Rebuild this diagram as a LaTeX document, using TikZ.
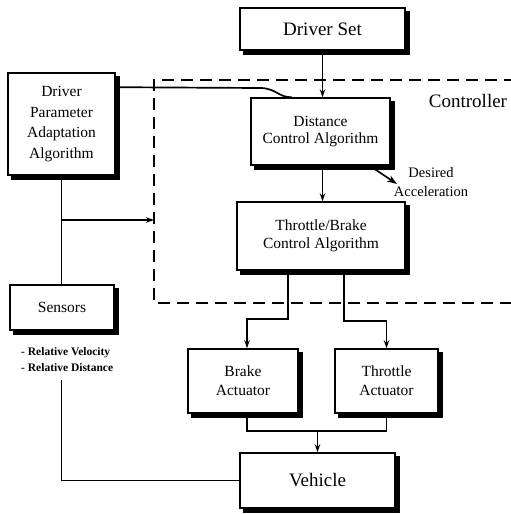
\documentclass[tikz,border=0pt]{standalone}
\usepackage{fontspec}
\setmainfont{Liberation Serif}
\usetikzlibrary{arrows.meta,calc}
\begin{document}
\begin{tikzpicture}[x=1pt,y=-1pt,
  box/.style={draw, line width=1.6pt, fill=white, inner sep=0pt, align=center},
  boxshadow/.style={fill=black, draw=none},
  mid/.style={font=\fontsize{15.5}{19}\selectfont},
  big/.style={font=\fontsize{19}{22}\selectfont},
  conn/.style={line width=1.7pt},
  arr/.style={conn, -{Stealth[length=8pt,width=5.5pt]}},
  ctrl/.style={line width=1.8pt, dash pattern=on 12pt off 7pt}]
\useasboundingbox (0,0) rectangle (511,514);
\draw[ctrl] (516,80) -- (154,80) -- (154,303) -- (516,303);
\node[big] (ctl) at (468,101) {Controller};
\node[box,big, minimum width=165pt, minimum height=42pt] (ds) at (322.5,29) {Driver Set};
\node[box,mid, minimum width=107pt, minimum height=102pt, font=\fontsize{15.5}{20.5}\selectfont] (dpa) at (61.5,124) {Driver\\Parameter\\Adaptation\\Algorithm};
\node[box,mid, minimum width=139pt, minimum height=67pt, font=\fontsize{15.5}{17}\selectfont] (dist) at (320.5,131.5) {Distance\\Control Algorithm};
\node[box,mid, minimum width=168pt, minimum height=68pt, font=\fontsize{15.5}{18}\selectfont] (tb) at (321,236) {Throttle/Brake\\Control Algorithm};
\node[box,mid, minimum width=104pt, minimum height=45pt] (sens) at (62,307.5) {Sensors};
\node[box,mid, minimum width=110pt, minimum height=64pt] (brake) at (243,381) {Brake\\Actuator};
\node[box,mid, minimum width=103pt, minimum height=64pt] (thr) at (386.5,381) {Throttle\\Actuator};
\node[box,big, minimum width=155pt, minimum height=55pt] (veh) at (317.5,480.5) {Vehicle};
\foreach \b in {ds,dpa,dist,tb,sens,brake,thr,veh}{
  \path[boxshadow] ([yshift=-4pt]\b.north east) rectangle ([xshift=4.5pt,yshift=-4.5pt]\b.south east);
  \path[boxshadow] ([xshift=4pt]\b.south west) rectangle ([xshift=4.5pt,yshift=-4.5pt]\b.south east);
}
\node[anchor=west, align=left, inner sep=0pt, font=\bfseries\fontsize{11.5}{16}\selectfont] (meas) at (21,360) {- Relative Velocity\\- Relative Distance};
\node[align=center, inner sep=0pt, font=\fontsize{14.5}{19}\selectfont] (da) at (431,182.5) {Desired\\Acceleration};
\draw[arr] (ds.south) -- (ds.south |- dist.north);
\draw[arr] (dist.south -| ds.south) -- (tb.north -| ds.south);
\coordinate (datip) at (397,184);
\draw[conn, -{Stealth[length=10pt,width=7pt]}] ([xshift=-21pt]dist.south east) -- (datip);
\coordinate (c1) at (260,88);
\draw[conn] ($(dpa.north east)+(0,15)$) -- (c1) .. controls (276,88) and (279,98) .. ([xshift=42pt]dist.north west);
\draw[conn] (dpa.south) -- (dpa.south |- sens.north);
\coordinate (br) at (61.5,220);
\coordinate (cin) at (154,220);
\draw[arr] (br) -- (cin);
\draw[arr] ([xshift=-33pt]tb.south) -- ++(0,48) -| ([xshift=4pt]brake.north);
\draw[arr] ([xshift=23pt]tb.south) -- ++(0,50) -| (thr.north);
\draw[conn] ([xshift=4pt]brake.south) -- ++(0,17) -| (thr.south);
\coordinate (j) at (317.5,430);
\draw[arr] (j) -- (veh.north);
\coordinate (st) at (61.5,380);
\draw[conn] (st) |- (veh.west);
\end{tikzpicture}
\end{document}
